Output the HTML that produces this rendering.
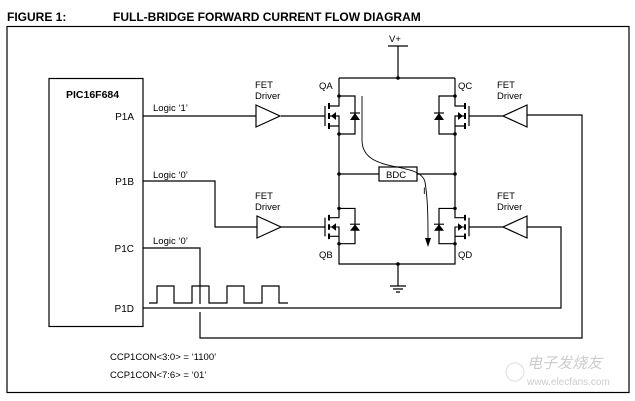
<!DOCTYPE html>
<html><head><meta charset="utf-8"><style>
html,body{margin:0;padding:0;background:#fff;}
svg{display:block;font-family:"Liberation Sans",Arial,sans-serif;}
</style></head><body>
<svg width="635" height="401" viewBox="0 0 635 401" xmlns="http://www.w3.org/2000/svg">
<defs>
<g id="fet" fill="none" stroke="#000" stroke-width="1.2">
  <path d="M0,-20 V-10 H-10 M0,18 V10 H-10 M-10,0 H0 V10"/>
  <path d="M-10,-13 V-7 M-10,-3 V3 M-10,7 V13" stroke-width="2"/>
  <path d="M-14,-10 V10"/>
  <path d="M0,-20 H16 V18 H0"/>
  <polygon points="-8,0 -3,-4 -3,4" fill="#000" stroke="none"/>
  <polygon points="11,4 21,4 16,-3" fill="#000" stroke="none"/>
  <path d="M11,-3 H21"/>
  <circle cx="0" cy="-20" r="1.8" fill="#000" stroke="none"/>
  <circle cx="0" cy="18" r="1.8" fill="#000" stroke="none"/>
</g>
</defs>
<text x="7" y="21" font-size="12" font-weight="bold">FIGURE 1:</text>
<text x="113" y="21" font-size="12" font-weight="bold">FULL-BRIDGE FORWARD CURRENT FLOW DIAGRAM</text>
<rect x="7" y="26.5" width="622" height="366" fill="none" stroke="#000" stroke-width="1.2"/>

<rect x="49" y="78.5" width="94" height="248" fill="none" stroke="#000" stroke-width="1.2"/>
<text x="66" y="98" font-size="10.5" font-weight="bold">PIC16F684</text>
<g font-size="10" text-anchor="end">
<text x="134" y="120">P1A</text><text x="134" y="185">P1B</text>
<text x="134" y="252">P1C</text><text x="134" y="312">P1D</text>
</g>
<g font-size="9.5">
<text x="153" y="111">Logic ‘1’</text>
<text x="153" y="178">Logic ‘0’</text>
<text x="153" y="244">Logic ‘0’</text>
<text x="255" y="88">FET</text><text x="255" y="99">Driver</text>
<text x="255" y="199">FET</text><text x="255" y="210">Driver</text>
<text x="497" y="88">FET</text><text x="497" y="99">Driver</text>
<text x="497" y="199">FET</text><text x="497" y="210">Driver</text>
<text x="389" y="42">V+</text>
<text x="319" y="89">QA</text><text x="458" y="89">QC</text>
<text x="319" y="258">QB</text><text x="458" y="258">QD</text>
<text x="423" y="194">I</text>
<text x="110" y="360">CCP1CON&lt;3:0&gt; = ‘1100’</text>
<text x="110" y="378">CCP1CON&lt;7:6&gt; = ‘01’</text>
</g>

<g fill="none" stroke="#000" stroke-width="1.2">
<!-- wires -->
<path d="M143,116 H256 M281,116 H325"/>
<path d="M143,181 H215 V227 H257 M281,227 H325"/>
<path d="M143,248 H200 V304 M200,312 V338 H582 V115 H527"/>
<path d="M143,308 H561 V227 H527"/>
<path d="M149,303 H157 V286 H174 V303 H192 V286 H209 V303 H227 V286 H244 V303 H262 V286 H279 V303 H288"/>
<path d="M469,116 H503 M469,227 H503"/>
<!-- drivers -->
<polygon points="256,105 256,127 280,116" fill="#fff"/>
<polygon points="257,216 257,238 281,227" fill="#fff"/>
<polygon points="527,105 527,127 503,116" fill="#fff"/>
<polygon points="527,216 527,238 503,227" fill="#fff"/>
<!-- bridge -->
<path d="M388,46 H408 M398,46 V78 M339,78 H455 M339,78 V96 M455,78 V96 M339,134 V208 M455,134 V208 M339,243 V264 H455 V243 M398,264 V286"/>
<path d="M390,286 H406 M393,289 H403 M396,292 H400"/>
<path d="M339,174 H379 M417,174 H455"/>
<rect x="379" y="167" width="38" height="14" fill="#fff"/>
<path d="M362,96 V140 C362,175 420,160 425,182 C428,200 428,220 428,240" stroke-width="0.9"/>
</g>
<text x="386" y="178" font-size="9.5">BDC</text>
<polygon points="425,238 431,238 428,247" fill="#000"/>
<g fill="#000">
<circle cx="398" cy="78" r="1.8"/><circle cx="398" cy="264" r="1.8"/>
<circle cx="339" cy="174" r="1.8"/><circle cx="455" cy="174" r="1.8"/>
</g>
<use href="#fet" transform="translate(339,116)"/>
<use href="#fet" transform="translate(339,227) scale(1,0.93)"/>
<use href="#fet" transform="translate(455,116) scale(-1,1)"/>
<use href="#fet" transform="translate(455,227) scale(-1,0.93)"/>

<g fill="#ccc" font-size="15"><text x="527" y="368" font-family="Noto Sans CJK SC,sans-serif" font-style="italic">电子发烧友</text></g>
<text x="527" y="385" font-size="10" fill="#ccc">www.elecfans.com</text>
<circle cx="515" cy="372" r="9" fill="none" stroke="#ddd"/>
</svg>
</body></html>
